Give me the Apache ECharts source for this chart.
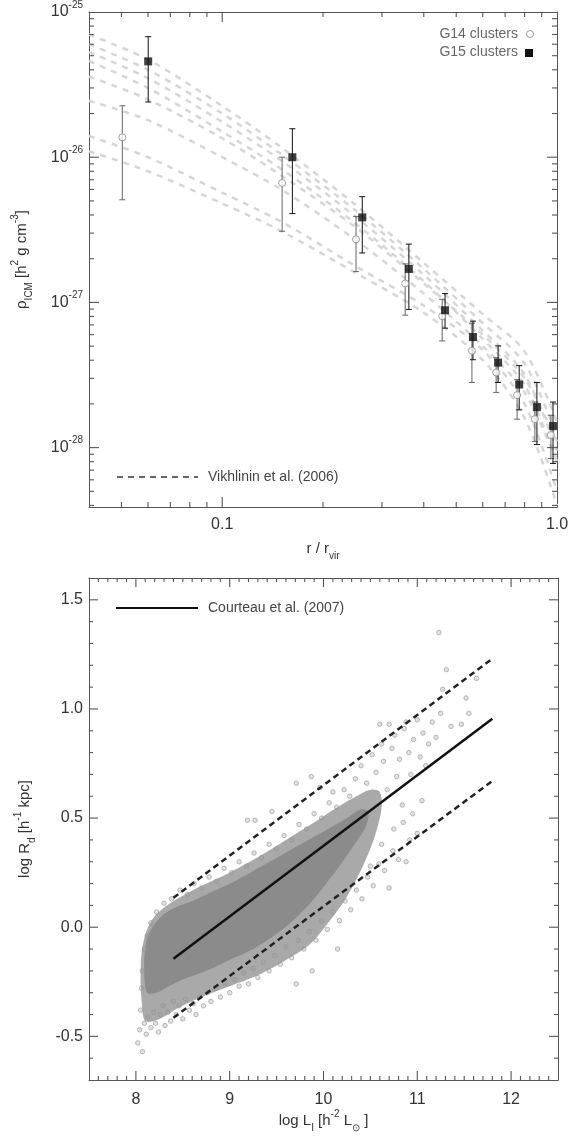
<!DOCTYPE html>
<html lang="en">
<head>
<meta charset="UTF-8">
<title>ICM density profiles and disc sizes</title>
<script src="https://cdn.jsdelivr.net/npm/echarts@6/dist/echarts.min.js"></script>
<style>
  html, body { margin: 0; padding: 0; background: #fff; }
  #chart { width: 574px; height: 1138px; }
</style>
</head>
<body>
<div id="chart"></div>
<script>
// ---------- top panel: ICM density vs r / r_vir ----------
// density values are in h^2 g cm^-3; plotted in units of 1e-28 so the log axis stays sane
var SCALE = 1e28;
var rGrid = [0.04, 0.06, 0.1, 0.15, 0.25, 0.4, 0.6, 0.8, 1.0];
var vikhlinin = [
  [7.0e-26, 4.7e-26, 2.25e-26, 1.17e-26, 4.7e-27, 1.87e-27, 8.3e-28, 4.6e-28, 1.5e-28],
  [6.0e-26, 4.0e-26, 2.0e-26, 1.05e-26, 4.3e-27, 1.7e-27, 7.2e-28, 3.8e-28, 1.2e-28],
  [5.3e-26, 3.5e-26, 1.75e-26, 9.5e-27, 3.9e-27, 1.55e-27, 6.4e-28, 3.2e-28, 9.5e-29],
  [4.6e-26, 3.0e-26, 1.5e-26, 8.3e-27, 3.5e-27, 1.4e-27, 5.6e-28, 2.7e-28, 8.0e-29],
  [3.6e-26, 2.5e-26, 1.35e-26, 7.5e-27, 3.3e-27, 1.35e-27, 6.0e-28, 3.0e-28, 1.1e-28],
  [2.45e-26, 1.8e-26, 1.0e-26, 6.0e-27, 2.7e-27, 1.15e-27, 5.0e-28, 2.4e-28, 8.0e-29],
  [1.4e-26, 1.0e-26, 5.7e-27, 3.6e-27, 1.78e-27, 9.5e-28, 4.7e-28, 2.0e-28, 5.0e-29],
  [1.1e-26, 8.0e-27, 4.8e-27, 3.1e-27, 1.6e-27, 8.5e-28, 4.0e-28, 1.6e-28, 4.0e-29]
];
var g15R   = [0.0601, 0.162, 0.262, 0.361, 0.463, 0.561, 0.667, 0.771, 0.871, 0.973];
var g15Rho = [4.57e-26, 1.0e-26, 3.85e-27, 1.70e-27, 8.83e-28, 5.78e-28, 3.85e-28, 2.72e-28, 1.90e-28, 1.41e-28];
var g15Hi  = [6.76e-26, 1.57e-26, 5.35e-27, 2.52e-27, 1.15e-27, 7.43e-28, 5.02e-28, 3.67e-28, 2.81e-28, 2.06e-28];
var g15Lo  = [2.40e-26, 4.09e-27, 2.19e-27, 8.95e-28, 6.65e-28, 4.03e-28, 2.81e-28, 1.82e-28, 1.05e-28, 7.78e-29];
var g14R   = [0.0503, 0.151, 0.251, 0.352, 0.454, 0.557, 0.658, 0.760, 0.859, 0.959];
var g14Rho = [1.37e-26, 6.65e-27, 2.72e-27, 1.35e-27, 8.04e-28, 4.65e-28, 3.29e-28, 2.30e-28, 1.57e-28, 1.22e-28];
var g14Hi  = [2.26e-26, 1.0e-26, 3.91e-27, 1.84e-27, 1.05e-27, 7.19e-28, 4.16e-28, 2.94e-28, 2.06e-28, 1.67e-28];
var g14Lo  = [5.09e-27, 3.09e-27, 1.63e-27, 8.17e-28, 5.43e-28, 2.81e-28, 2.40e-28, 1.57e-28, 1.10e-28, 8.41e-29];

// axis ranges
var rRange = [0.04, 1];
var rhoRange = [3.9e-29, 1e-25];
var lumRange = [7.5, 12.5];
var rdRange = [-0.7, 1.6];

// tick positions of the frame (major ones carry the labels)
var rMajorTicks = [0.1];
var rMinorTicks = [0.05, 0.06, 0.07, 0.08, 0.09, 0.2, 0.3, 0.4, 0.5, 0.6, 0.7, 0.8, 0.9];
var rhoMajorTicks = [1e-28, 1e-27, 1e-26];
var rhoMinorTicks = [
  4e-29, 5e-29, 6e-29, 7e-29, 8e-29, 9e-29,
  2e-28, 3e-28, 4e-28, 5e-28, 6e-28, 7e-28, 8e-28, 9e-28,
  2e-27, 3e-27, 4e-27, 5e-27, 6e-27, 7e-27, 8e-27, 9e-27,
  2e-26, 3e-26, 4e-26, 5e-26, 6e-26, 7e-26, 8e-26, 9e-26
];
var lumMajorTicks = [8, 9, 10, 11, 12];
var rdMajorTicks = [-0.5, 0, 0.5, 1.0, 1.5];

// ---------- bottom panel: log R_d vs log L_I ----------
var fitL  = [8.4, 11.8];
var fitR  = [-0.145, 0.955];
var fitUp = [0.135, 1.23];
var fitLo = [-0.415, 0.67];
// outline of the densest part of the galaxy cloud
var coreOutline = [
  [8.12,-0.30],[8.09,-0.22],[8.09,-0.14],[8.11,-0.07],[8.15,-0.02],[8.21,0.02],[8.30,0.06],
  [8.42,0.09],[8.60,0.12],[8.80,0.16],[9.05,0.21],[9.30,0.27],[9.55,0.33],[9.80,0.39],
  [10.05,0.45],[10.25,0.50],[10.40,0.54],[10.48,0.53],[10.45,0.46],[10.30,0.36],[10.10,0.24],
  [9.90,0.13],[9.70,0.04],[9.50,-0.03],[9.25,-0.10],[9.00,-0.15],[8.75,-0.20],[8.50,-0.24],
  [8.35,-0.27],[8.22,-0.30]
];
// outline of the less crowded envelope around it
var haloOutline = [
  [8.10,-0.43],[8.06,-0.33],[8.05,-0.22],[8.06,-0.12],[8.09,-0.05],[8.14,0.01],[8.22,0.06],
  [8.33,0.10],[8.48,0.14],[8.70,0.19],[9.00,0.25],[9.30,0.32],[9.60,0.40],[9.90,0.48],
  [10.15,0.55],[10.35,0.60],[10.50,0.63],[10.60,0.62],[10.62,0.55],[10.55,0.42],[10.42,0.28],
  [10.25,0.14],[10.05,0.02],[9.85,-0.08],[9.60,-0.15],[9.30,-0.22],[9.00,-0.27],[8.70,-0.32],
  [8.45,-0.37],[8.25,-0.42]
];
// individual galaxies in the sparse parts of the cloud
var galaxies = [
  [8.02,-0.53],[8.07,-0.57],[8.04,-0.47],[8.09,-0.44],[8.11,-0.49],[8.13,-0.41],[8.16,-0.46],
  [8.19,-0.39],[8.21,-0.44],[8.24,-0.48],[8.26,-0.40],[8.29,-0.36],[8.31,-0.45],[8.34,-0.39],
  [8.37,-0.43],[8.40,-0.34],[8.43,-0.40],[8.46,-0.36],[8.50,-0.42],[8.53,-0.33],[8.57,-0.38],
  [8.61,-0.35],[8.64,-0.40],[8.68,-0.32],[8.72,-0.36],[8.76,-0.30],[8.80,-0.34],[8.85,-0.28],
  [8.90,-0.32],[8.95,-0.26],[9.00,-0.30],[9.05,-0.24],[9.10,-0.27],[9.15,-0.21],[9.20,-0.26],
  [9.25,-0.19],[9.30,-0.23],[9.36,-0.16],[9.42,-0.20],[9.48,-0.13],[9.54,-0.17],[9.60,-0.09],
  [9.66,-0.14],[9.71,-0.26],[9.73,-0.06],[9.79,-0.10],[9.85,-0.02],[9.88,-0.20],[9.92,-0.06],
  [9.98,0.03],[10.04,-0.01],[10.10,0.07],[10.15,-0.10],[10.17,0.03],[10.23,0.12],[10.29,0.08],
  [10.35,0.17],[10.41,0.13],[10.47,0.23],[10.53,0.19],[10.59,0.29],[10.65,0.26],[10.70,0.18],
  [10.74,0.35],[10.80,0.31],[10.88,0.30],[10.92,0.40],[11.00,0.43],[10.50,0.28],[10.62,0.38],
  [10.75,0.45],[10.85,0.48],[10.95,0.52],[11.05,0.58],
  [8.05,-0.38],[8.06,-0.28],[8.07,-0.20],[8.09,-0.10],[8.12,-0.04],[8.16,0.02],
  [8.22,0.07],[8.30,0.11],[8.38,0.13],[8.47,0.17],[8.55,0.15],[8.62,0.20],[8.70,0.18],
  [8.78,0.23],[8.86,0.21],[8.94,0.27],[9.02,0.25],[9.10,0.30],[9.19,0.49],[9.27,0.49],
  [9.18,0.28],[9.26,0.34],[9.34,0.32],[9.42,0.38],[9.45,0.53],[9.50,0.36],[9.58,0.42],
  [9.66,0.40],[9.71,0.66],[9.74,0.47],[9.82,0.45],[9.87,0.69],[9.90,0.52],[9.96,0.64],
  [9.98,0.50],[10.06,0.57],[10.10,0.62],[10.14,0.55],[10.22,0.63],[10.28,0.60],[10.34,0.68],
  [10.40,0.74],[10.46,0.66],[10.52,0.79],[10.56,0.71],[10.60,0.93],[10.62,0.84],[10.64,0.76],
  [10.68,0.63],[10.70,0.93],[10.73,0.82],[10.76,0.88],[10.78,0.69],[10.81,0.77],[10.84,0.56],
  [10.86,0.91],[10.88,0.94],[10.91,0.80],[10.93,0.70],[10.96,0.86],[11.00,0.95],[11.03,0.78],
  [11.06,0.89],[11.09,0.74],[11.12,0.84],[11.16,0.94],[11.20,0.87],[11.23,1.35],[11.25,0.98],
  [11.27,1.09],[11.31,1.18],[11.36,0.92],[11.47,0.93],[11.52,1.05],[11.55,0.98],[11.63,1.14]
];

var FONT = '"Liberation Sans", Arial, sans-serif';
var AX = '#555';
var TICK = '#555';

// minor ticks every 0.1 in the bottom panel, skipping the labelled ones
var lumMinorTicks = [], rdMinorTicks = [];
for (var k = 76; k <= 124; k++) if (k % 10 !== 0) lumMinorTicks.push(k / 10);
for (var k2 = -6; k2 <= 15; k2++) if (k2 % 5 !== 0) rdMinorTicks.push(k2 / 10);

function scaled(v) { return v * SCALE; }

function errorBars(r, lo, hi, color) {
  return {
    type: 'custom', xAxisIndex: 0, yAxisIndex: 0, silent: true, z: 3,
    data: r.map(function (x, i) { return [x, scaled(lo[i]), scaled(hi[i])]; }),
    renderItem: function (params, api) {
      var a = api.coord([api.value(0), api.value(1)]);
      var b = api.coord([api.value(0), api.value(2)]);
      var st = { stroke: color, lineWidth: 1 };
      return { type: 'group', children: [
        { type: 'line', shape: { x1: a[0], y1: a[1], x2: b[0], y2: b[1] }, style: st },
        { type: 'line', shape: { x1: a[0] - 3, y1: a[1], x2: a[0] + 3, y2: a[1] }, style: st },
        { type: 'line', shape: { x1: b[0] - 3, y1: b[1], x2: b[0] + 3, y2: b[1] }, style: st }
      ]};
    }
  };
}

function polygon(pts, color) {
  return {
    type: 'custom', xAxisIndex: 2, yAxisIndex: 2, silent: true, z: 1,
    data: pts,
    renderItem: function (params, api) {
      if (params.dataIndex !== 0) return null;
      return { type: 'polygon', shape: { smooth: 0.3, points: pts.map(function (p) { return api.coord(p); }) },
               style: { fill: color } };
    }
  };
}

// inward ticks on one edge of the frame, drawn as thin rect symbols sitting on that edge.
// side: 'bottom' | 'top' | 'left' | 'right'; edge: axis value of that edge on the other axis
function edgeTicks(axisIdx, values, side, len, edge) {
  var vertical = side === 'bottom' || side === 'top';
  var off = { bottom: [0, -len / 2], top: [0, len / 2], left: [len / 2, 0], right: [-len / 2, 0] }[side];
  return {
    type: 'scatter', xAxisIndex: axisIdx, yAxisIndex: axisIdx, silent: true, clip: false, z: 5,
    symbol: 'rect', symbolSize: vertical ? [1.1, len] : [len, 1.1], symbolOffset: off,
    itemStyle: { color: TICK, opacity: 1 },
    data: values.map(function (v) { return vertical ? [v, edge] : [edge, v]; })
  };
}

var richName = {
  t: { fontSize: 15, color: '#333', fontFamily: FONT, lineHeight: 24 },
  sup: { fontSize: 10, color: '#333', fontFamily: FONT, verticalAlign: 'top', lineHeight: 12 },
  sub: { fontSize: 10, color: '#333', fontFamily: FONT, verticalAlign: 'bottom', lineHeight: 12 }
};

var series = [];
vikhlinin.forEach(function (c) {
  series.push({
    type: 'line', xAxisIndex: 0, yAxisIndex: 0, smooth: 0.3, symbol: 'none', silent: true, z: 1,
    lineStyle: { color: '#d6d6d6', width: 2.5, type: [6, 6] },
    data: rGrid.map(function (r, i) { return [r, scaled(c[i])]; })
  });
});
series.push(errorBars(g14R, g14Lo, g14Hi, '#666'));
series.push(errorBars(g15R, g15Lo, g15Hi, '#111'));
series.push({
  type: 'scatter', xAxisIndex: 0, yAxisIndex: 0, symbol: 'circle', symbolSize: 7, z: 4,
  itemStyle: { color: '#fff', borderColor: '#888', borderWidth: 1 },
  data: g14R.map(function (r, i) { return [r, scaled(g14Rho[i])]; })
});
series.push({
  type: 'scatter', xAxisIndex: 0, yAxisIndex: 0, symbol: 'rect', symbolSize: 8, z: 4,
  itemStyle: { color: '#111' },
  data: g15R.map(function (r, i) { return [r, scaled(g15Rho[i])]; })
});

var rhoMajS = rhoMajorTicks.map(scaled), rhoMinS = rhoMinorTicks.map(scaled);
var yLo = scaled(rhoRange[0]), yHi = scaled(rhoRange[1]);
series.push(edgeTicks(0, rMajorTicks, 'bottom', 10, yLo));
series.push(edgeTicks(0, rMajorTicks, 'top', 10, yHi));
series.push(edgeTicks(0, rMinorTicks, 'bottom', 5, yLo));
series.push(edgeTicks(0, rMinorTicks, 'top', 5, yHi));
series.push(edgeTicks(0, rhoMajS, 'left', 10, rRange[0]));
series.push(edgeTicks(0, rhoMajS, 'right', 10, rRange[1]));
series.push(edgeTicks(0, rhoMinS, 'left', 5, rRange[0]));
series.push(edgeTicks(0, rhoMinS, 'right', 5, rRange[1]));

series.push(polygon(haloOutline, '#a9a9a9'));
series.push(polygon(coreOutline, '#8b8b8b'));
series.push({
  type: 'scatter', xAxisIndex: 2, yAxisIndex: 2, symbol: 'circle', symbolSize: 4.5, z: 2,
  itemStyle: { color: 'rgba(150,150,150,0.35)', borderColor: '#959595', borderWidth: 0.8 },
  data: galaxies
});
series.push({
  type: 'line', xAxisIndex: 2, yAxisIndex: 2, symbol: 'none', z: 6,
  lineStyle: { color: '#111', width: 2.5 },
  data: fitL.map(function (x, i) { return [x, fitR[i]]; })
});
[fitUp, fitLo].forEach(function (arr) {
  series.push({
    type: 'line', xAxisIndex: 2, yAxisIndex: 2, symbol: 'none', z: 6,
    lineStyle: { color: '#222', width: 2.5, type: [6, 4] },
    data: fitL.map(function (x, i) { return [x, arr[i]]; })
  });
});
series.push(edgeTicks(2, lumMajorTicks, 'bottom', 9, rdRange[0]));
series.push(edgeTicks(2, lumMajorTicks, 'top', 9, rdRange[1]));
series.push(edgeTicks(2, lumMinorTicks, 'bottom', 4, rdRange[0]));
series.push(edgeTicks(2, lumMinorTicks, 'top', 4, rdRange[1]));
series.push(edgeTicks(2, rdMajorTicks, 'left', 9, lumRange[0]));
series.push(edgeTicks(2, rdMajorTicks, 'right', 9, lumRange[1]));
series.push(edgeTicks(2, rdMinorTicks, 'left', 4, lumRange[0]));
series.push(edgeTicks(2, rdMinorTicks, 'right', 4, lumRange[1]));

var frameLine = { show: true, onZero: false, lineStyle: { color: AX, width: 1 } };
var hidden = { show: false };

var option = {
  backgroundColor: '#fff',
  animation: false,
  grid: [
    { left: 89, top: 5, width: 468, height: 502 },
    { left: 89, top: 578, width: 469, height: 502 }
  ],
  xAxis: [
    {
      gridIndex: 0, type: 'log', min: rRange[0], max: rRange[1], position: 'bottom',
      name: '{t|r / r}{sub|vir}', nameLocation: 'middle', nameGap: 30,
      nameTextStyle: { rich: richName },
      axisLine: frameLine, splitLine: hidden, axisTick: hidden,
      axisLabel: {
        margin: 10, fontSize: 16, color: '#333', fontFamily: FONT, showMinLabel: false,
        formatter: function (v) {
          if (Math.abs(v - 0.1) < 1e-9) return '0.1';
          if (Math.abs(v - 1) < 1e-9) return '1.0';
          return '';
        }
      }
    },
    {
      gridIndex: 0, type: 'log', min: rRange[0], max: rRange[1], position: 'top',
      axisLine: frameLine, splitLine: hidden, axisLabel: hidden, axisTick: hidden
    },
    {
      gridIndex: 1, type: 'value', min: lumRange[0], max: lumRange[1], position: 'bottom',
      name: '{t|log L}{sub|I}{t| [h}{sup|-2}{t| L}{sub|\u2299}{t| ]}', nameLocation: 'middle', nameGap: 28,
      nameTextStyle: { rich: richName },
      axisLine: frameLine, splitLine: hidden, axisTick: hidden,
      axisLabel: { margin: 12, fontSize: 16, color: '#333', fontFamily: FONT, showMinLabel: false, showMaxLabel: false }
    },
    {
      gridIndex: 1, type: 'value', min: lumRange[0], max: lumRange[1], position: 'top',
      axisLine: frameLine, splitLine: hidden, axisLabel: hidden, axisTick: hidden
    }
  ],
  yAxis: [
    {
      gridIndex: 0, type: 'log', min: yLo, max: yHi, position: 'left',
      name: '{t|\u03c1}{sub|ICM}{t| [h}{sup|2}{t| g cm}{sup|-3}{t|]}', nameLocation: 'middle', nameGap: 55, nameRotate: 90,
      nameTextStyle: { rich: richName },
      axisLine: frameLine, splitLine: hidden, axisTick: hidden,
      axisLabel: {
        margin: 6, showMinLabel: false,
        formatter: function (v) {
          var e = Math.log10(v);
          if (Math.abs(e - Math.round(e)) > 1e-6) return '';
          return '{b|10}{s|' + (Math.round(e) - 28) + '}';
        },
        rich: {
          b: { fontSize: 16, color: '#333', fontFamily: FONT, lineHeight: 24 },
          s: { fontSize: 10, color: '#333', fontFamily: FONT, verticalAlign: 'top', lineHeight: 12 }
        }
      }
    },
    {
      gridIndex: 0, type: 'log', min: yLo, max: yHi, position: 'right',
      axisLine: frameLine, splitLine: hidden, axisLabel: hidden, axisTick: hidden
    },
    {
      gridIndex: 1, type: 'value', min: rdRange[0], max: rdRange[1], position: 'left',
      name: '{t|log R}{sub|d}{t| [h}{sup|-1}{t| kpc]}', nameLocation: 'middle', nameGap: 52, nameRotate: 90,
      nameTextStyle: { rich: richName },
      axisLine: frameLine, splitLine: hidden, axisTick: hidden,
      axisLabel: {
        margin: 6, fontSize: 16, color: '#333', fontFamily: FONT, showMinLabel: false, showMaxLabel: false,
        formatter: function (v) { return v.toFixed(1); }
      }
    },
    {
      gridIndex: 1, type: 'value', min: rdRange[0], max: rdRange[1], position: 'right',
      axisLine: frameLine, splitLine: hidden, axisLabel: hidden, axisTick: hidden
    }
  ],
  graphic: [
    { type: 'text', x: 518, y: 34, style: { text: 'G14 clusters', align: 'right', verticalAlign: 'middle', font: '14px ' + FONT, fill: '#666' } },
    { type: 'circle', shape: { cx: 530, cy: 34, r: 3.5 }, style: { fill: '#fff', stroke: '#999', lineWidth: 1 } },
    { type: 'text', x: 518, y: 52, style: { text: 'G15 clusters', align: 'right', verticalAlign: 'middle', font: '14px ' + FONT, fill: '#666' } },
    { type: 'rect', shape: { x: 525, y: 49, width: 8, height: 8 }, style: { fill: '#111' } },
    { type: 'line', shape: { x1: 117, y1: 477, x2: 198, y2: 477 }, style: { stroke: '#333', lineWidth: 1.5, lineDash: [6, 5] } },
    { type: 'text', x: 208, y: 477, style: { text: 'Vikhlinin et al. (2006)', align: 'left', verticalAlign: 'middle', font: '14px ' + FONT, fill: '#444' } },
    { type: 'line', shape: { x1: 116, y1: 608, x2: 198, y2: 608 }, style: { stroke: '#111', lineWidth: 2 } },
    { type: 'text', x: 208, y: 608, style: { text: 'Courteau et al. (2007)', align: 'left', verticalAlign: 'middle', font: '14px ' + FONT, fill: '#444' } }
  ],
  series: series
};

var myChart = echarts.init(document.getElementById('chart'));
myChart.setOption(option);
</script>
</body>
</html>
